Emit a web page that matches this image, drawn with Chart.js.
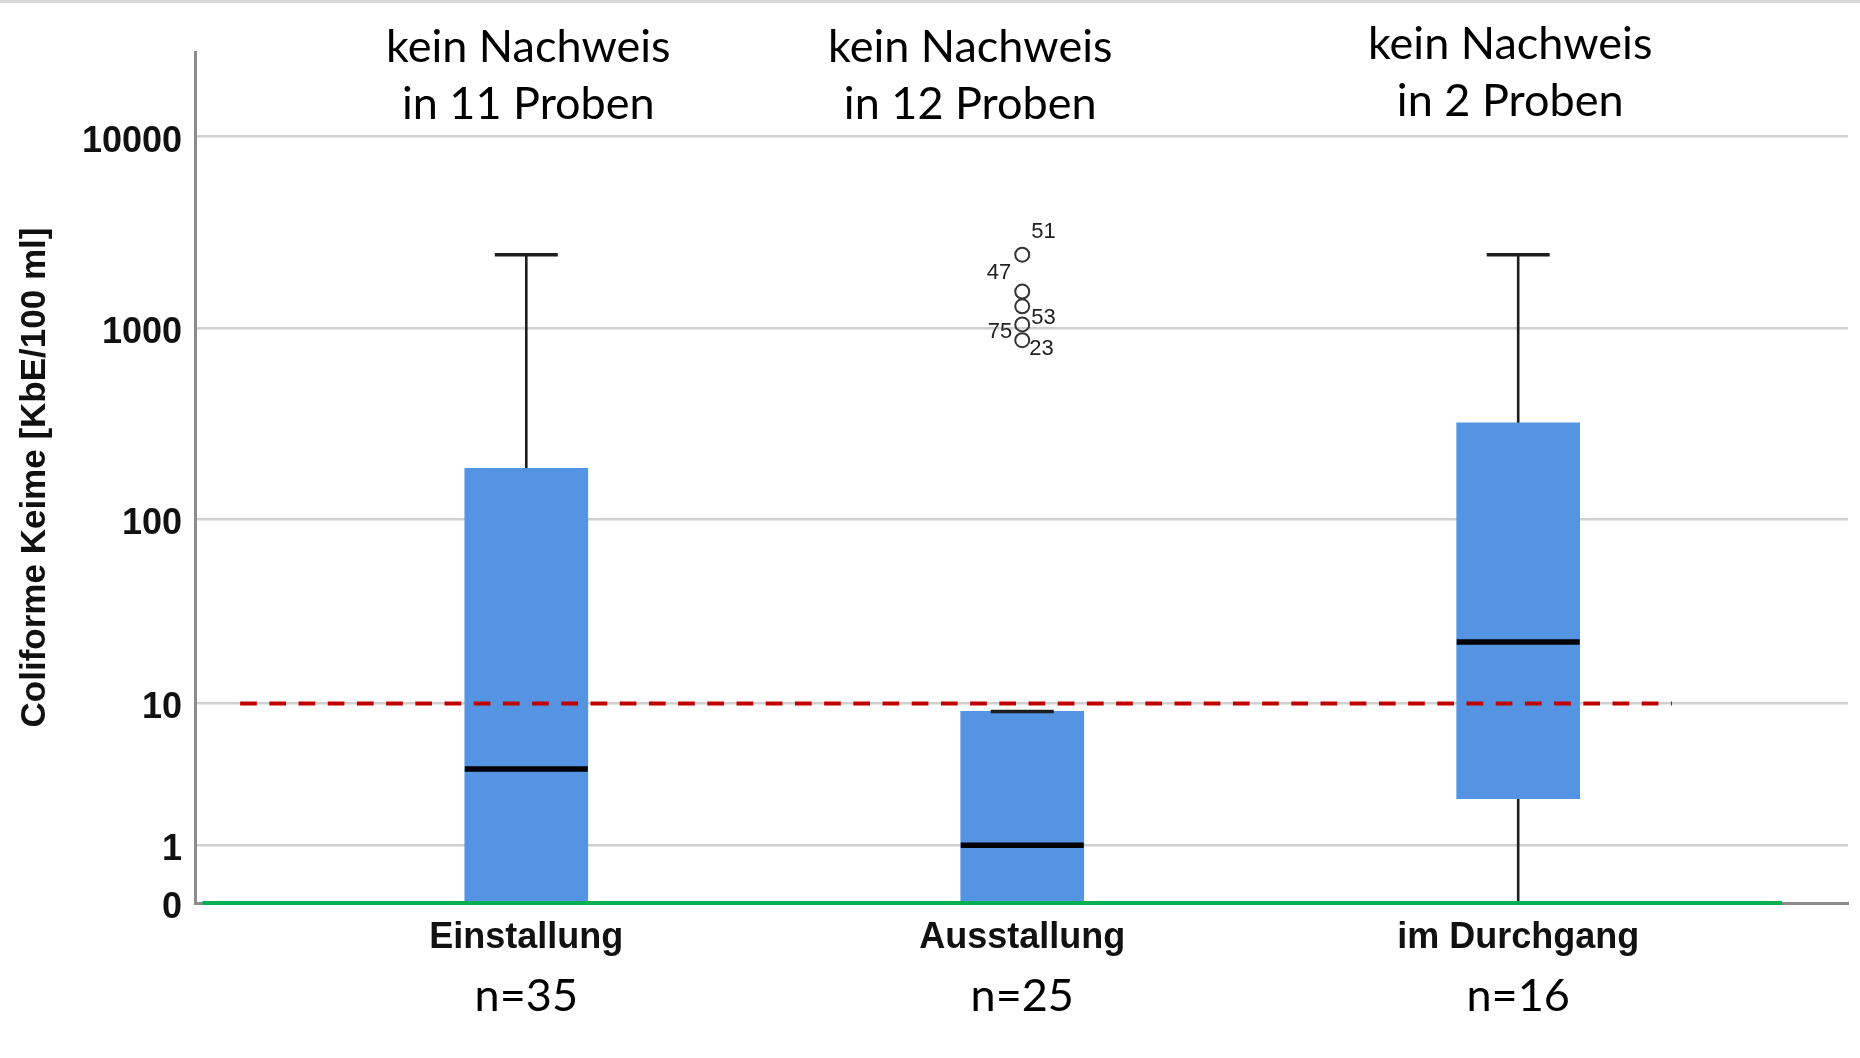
<!DOCTYPE html>
<html>
<head>
<meta charset="utf-8">
<script src="https://cdn.jsdelivr.net/npm/chart.js@4/dist/chart.umd.min.js"></script>
<style>
  html, body { margin: 0; padding: 0; background: #ffffff; }
  #wrap { width: 1860px; height: 1058px; position: relative; }
</style>
</head>
<body>
<div id="wrap"><canvas id="c"></canvas></div>
<script>
// ---------------- data ----------------
const categories = ['Einstallung', 'Ausstallung', 'im Durchgang'];
const sampleCounts = ['n=35', 'n=25', 'n=16'];
const noteLine1 = ['kein Nachweis', 'kein Nachweis', 'kein Nachweis'];
const noteLine2 = ['in 11 Proben', 'in 12 Proben', 'in 2 Proben'];

const whiskerLow  = [0, 0, 0];
const quart1      = [0, 0, 2.5];
const medians     = [4, 1, 22];
const quart3      = [185, 9, 320];
const whiskerHigh = [2420, 9, 2420];

const outlierCategory = 1; // Ausstallung
const outlierValues = [2420, 1553, 1300, 1046, 866];
const outlierIds    = ['51', '47', '53', '75', '23'];

const yTickValues = [0, 1, 10, 100, 1000, 10000];
const yTickLabels = ['0', '1', '10', '100', '1000', '10000'];
const thresholdValue = 10;
const yAxisTitle = 'Coliforme Keime [KbE/100 ml]';

// ------------- transform (log10(x+1) axis) -------------
const tf = v => Math.log10(v + 1);

// ------------- style config -------------
const BOX_COLOR = '#5594e3';
const LABEL_FONT = '"Liberation Sans", Arial, sans-serif';
const NOTE_FONT = 'Lato, "Open Sans", sans-serif';
const outlierLabelStyle = [ // [dx, dy, align]
  [9, -17, 'left'], [-11, -13, 'right'], [9, 18, 'left'], [-10, 14, 'right'], [7, 15, 'left']
];
const noteDx = [2, -52, -8];
const noteBaselines = [[62, 119], [62, 119], [59, 116]];
const nBaseline = 1011;
const thresholdSpan = [-0.577, 2.31];
const zeroLineSpan = [-0.653, 2.532];

// ------------- datasets -------------
const boxData = categories.map((c, i) => ({ x: i, y: [tf(quart1[i]), tf(quart3[i])] }));
const medianData = categories.map((c, i) => ({ x: i, y: tf(medians[i]) }));
const capData = [];
categories.forEach((c, i) => {
  capData.push({ x: i, y: tf(whiskerHigh[i]) });
  capData.push({ x: i, y: tf(whiskerLow[i]) });
});
const whiskerSets = categories.map((c, i) => ({
  type: 'line',
  data: [{ x: i, y: tf(whiskerLow[i]) }, { x: i, y: tf(whiskerHigh[i]) }],
  borderColor: '#1e1e1e', borderWidth: 2.6, pointRadius: 0, fill: false, order: 6, clip: false
}));
const outlierData = outlierValues.map(v => ({ x: outlierCategory, y: tf(v) }));

const datasets = [
  {
    type: 'bar', data: boxData, backgroundColor: BOX_COLOR, borderWidth: 0,
    barThickness: 123, order: 5
  },
  ...whiskerSets,
  {
    type: 'scatter', data: capData, pointStyle: 'line', pointRadius: 31.5,
    borderColor: '#1e1e1e', borderWidth: 3.5, order: 4, clip: false
  },
  {
    type: 'line', data: [{ x: zeroLineSpan[0], y: 0 }, { x: zeroLineSpan[1], y: 0 }],
    borderColor: '#00b050', borderWidth: 4, pointRadius: 0, order: 3, clip: false
  },
  {
    type: 'line', data: [{ x: thresholdSpan[0], y: tf(thresholdValue) }, { x: thresholdSpan[1], y: tf(thresholdValue) }],
    borderColor: '#c00000', borderWidth: 3.8, borderDash: [16.7, 12.5], pointRadius: 0, order: 2, clip: false
  },
  {
    type: 'scatter', data: medianData, pointStyle: 'line', pointRadius: 61.5,
    borderColor: '#000000', borderWidth: 5.5, order: 1, clip: false
  },
  {
    type: 'scatter', data: outlierData, pointStyle: 'circle', pointRadius: 7,
    borderColor: '#333333', borderWidth: 2, backgroundColor: 'rgba(0,0,0,0)', order: 1, clip: false
  }
];
const OUTLIER_INDEX = datasets.length - 1;

// ------------- plugins -------------
const decor = {
  id: 'decor',
  beforeDraw(chart) {
    const ctx = chart.ctx;
    ctx.save();
    ctx.fillStyle = '#ffffff';
    ctx.fillRect(0, 0, chart.width, chart.height);
    ctx.fillStyle = '#d9d9d9';
    ctx.fillRect(0, 0, chart.width, 3);
    ctx.restore();
  },
  afterDraw(chart) {
    const ctx = chart.ctx;
    const xs = chart.scales.x;
    ctx.save();
    // outlier labels
    const meta = chart.getDatasetMeta(OUTLIER_INDEX);
    ctx.font = '22px ' + LABEL_FONT;
    ctx.fillStyle = '#222';
    ctx.textBaseline = 'alphabetic';
    meta.data.forEach((el, j) => {
      const s = outlierLabelStyle[j];
      ctx.textAlign = s[2];
      ctx.fillText(outlierIds[j], el.x + s[0], el.y + s[1]);
    });
    // top notes
    ctx.font = '45px ' + NOTE_FONT;
    ctx.fillStyle = '#000';
    ctx.textAlign = 'center';
    categories.forEach((c, i) => {
      const px = xs.getPixelForValue(i) + noteDx[i];
      ctx.fillText(noteLine1[i], px, noteBaselines[i][0]);
      ctx.fillText(noteLine2[i], px, noteBaselines[i][1]);
    });
    // n labels
    categories.forEach((c, i) => {
      ctx.fillText(sampleCounts[i], xs.getPixelForValue(i), nBaseline);
    });
    ctx.restore();
  }
};

// ------------- chart -------------
new Chart(document.getElementById('c'), {
  data: { datasets },
  options: {
    responsive: true,
    maintainAspectRatio: false,
    animation: false,
    events: [],
    layout: { autoPadding: false, padding: { top: 52, right: 12, left: 0, bottom: 0 } },
    plugins: { legend: { display: false }, tooltip: { enabled: false } },
    scales: {
      x: {
        type: 'linear',
        offset: false,
        min: -0.668, max: 2.665,
        afterFit(s) { s.height = 155; },
        afterBuildTicks(s) { s.ticks = categories.map((c, i) => ({ value: i })); },
        ticks: {
          callback: (v, i) => categories[i],
          font: { family: LABEL_FONT, size: 36, weight: 'bold' },
          color: '#111', padding: 13, maxRotation: 0, minRotation: 0, autoSkip: false
        },
        grid: { drawOnChartArea: false, drawTicks: false, offset: false },
        border: { display: true, color: '#8c8c8c', width: 3 }
      },
      y: {
        type: 'linear',
        min: 0, max: 4.442,
        afterFit(s) { s.width = 195; },
        afterBuildTicks(s) { s.ticks = yTickValues.map(v => ({ value: tf(v) })); },
        ticks: {
          callback: (v, i) => yTickLabels[i],
          font: { family: LABEL_FONT, size: 36, weight: 'bold' },
          color: '#111', padding: 13, labelOffset: 5, autoSkip: false
        },
        grid: {
          drawTicks: false, lineWidth: 2.5,
          color: c => (c.tick && c.tick.value === 0) ? 'rgba(0,0,0,0)' : '#d0d0d0'
        },
        border: { display: true, color: '#8c8c8c', width: 3 },
        title: {
          display: true, text: yAxisTitle, color: '#111',
          font: { family: LABEL_FONT, size: 35, weight: 'bold' },
          padding: { top: 14, bottom: 0 }
        }
      }
    }
  },
  plugins: [decor]
});
</script>
</body>
</html>
